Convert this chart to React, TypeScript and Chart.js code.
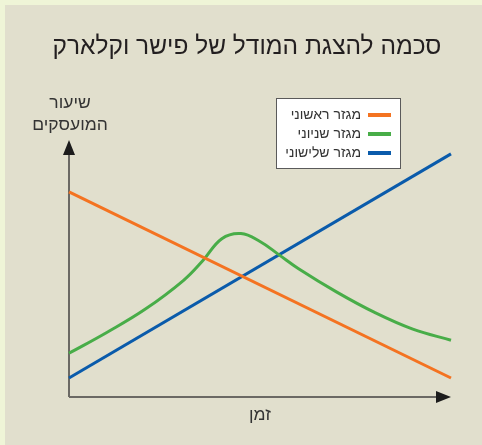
import React, { useEffect, useRef } from "react";
import { Chart, registerables } from "chart.js";

Chart.register(...registerables);

const chartTitle = "סכמה להצגת המודל של פישר וקלארק";
const yAxisLabel = ["שיעור", "המועסקים"];
const xAxisLabel = "זמן";
const seriesNames = ["מגזר ראשוני", "מגזר שניוני", "מגזר שלישוני"];
const seriesColors = ["#f47321", "#48ad48", "#0a5bab"];

const primaryX = [0, 10];
const primaryY = [79.8, 7.4];
const secondaryX = [0, 1, 2, 3, 3.5, 4, 4.5, 5, 5.5, 6, 7, 8, 9, 10];
const secondaryY = [17.0, 25.2, 34.2, 45.4, 53.0, 61.6, 63.6, 60.5, 55.3, 50.0, 40.9, 32.9, 26.4, 22.1];
const tertiaryX = [0, 10];
const tertiaryY = [7.4, 94.6];

const FONT = "'Liberation Sans', Arial, sans-serif";

const zip = (xs: number[], ys: number[]) => xs.map((x, i) => ({ x, y: ys[i] }));

const decorPlugin = {
  id: "decor",
  beforeDraw(chart: any) {
    const { ctx, width, height } = chart;
    ctx.save();
    ctx.fillStyle = "#eff5d7";
    ctx.fillRect(0, 0, width, height);
    ctx.fillStyle = "#e1dfcd";
    ctx.fillRect(5, 5, width - 5, height - 5);
    ctx.fillStyle = "#231f20";
    ctx.font = `24.5px ${FONT}`;
    ctx.textAlign = "center";
    ctx.textBaseline = "middle";
    ctx.fillText(chartTitle, 247, 47);
    ctx.fillStyle = "#333";
    ctx.font = `17.5px ${FONT}`;
    ctx.fillText(yAxisLabel[0], 70, 103);
    ctx.fillText(yAxisLabel[1], 70, 125);
    ctx.restore();
  },
  beforeDatasetsDraw(chart: any) {
    const { ctx } = chart;
    const xs = chart.scales.x;
    const ys = chart.scales.y;
    const x0 = xs.getPixelForValue(0);
    const x1 = xs.getPixelForValue(10);
    const y0 = ys.getPixelForValue(0);
    const y1 = ys.getPixelForValue(100);
    ctx.save();
    ctx.strokeStyle = "#6b6964";
    ctx.lineWidth = 2;
    ctx.beginPath();
    ctx.moveTo(x0, y0);
    ctx.lineTo(x0, y1 + 10);
    ctx.moveTo(x0, y0);
    ctx.lineTo(x1 - 10, y0);
    ctx.stroke();
    ctx.fillStyle = "#1c1c1c";
    ctx.beginPath();
    ctx.moveTo(x0, y1);
    ctx.lineTo(x0 - 6, y1 + 15);
    ctx.lineTo(x0 + 6, y1 + 15);
    ctx.closePath();
    ctx.fill();
    ctx.beginPath();
    ctx.moveTo(x1, y0);
    ctx.lineTo(x1 - 15, y0 - 6);
    ctx.lineTo(x1 - 15, y0 + 6);
    ctx.closePath();
    ctx.fill();
    ctx.fillStyle = "#333";
    ctx.font = `17.5px ${FONT}`;
    ctx.textAlign = "center";
    ctx.textBaseline = "middle";
    ctx.fillText(xAxisLabel, 260, 415);
    ctx.restore();
  },
  afterDatasetsDraw(chart: any) {
    const { ctx } = chart;
    ctx.save();
    ctx.fillStyle = "#ffffff";
    ctx.fillRect(276.5, 98.5, 124, 70);
    ctx.strokeStyle = "#5a5a5a";
    ctx.lineWidth = 1;
    ctx.strokeRect(276.5, 98.5, 124, 70);
    chart.data.datasets.forEach((ds: any, i: number) => {
      const y = 115 + i * 19;
      ctx.strokeStyle = ds.borderColor;
      ctx.lineWidth = 4;
      ctx.beginPath();
      ctx.moveTo(368, y);
      ctx.lineTo(391, y);
      ctx.stroke();
      ctx.fillStyle = "#333";
      ctx.font = `14px ${FONT}`;
      ctx.textAlign = "right";
      ctx.textBaseline = "middle";
      ctx.fillText(ds.label, 361, y);
    });
    ctx.restore();
  },
};

export default function App() {
  const ref = useRef<HTMLCanvasElement>(null);
  useEffect(() => {
    if (!ref.current) return;
    const chart = new Chart(ref.current, {
      type: "line",
      data: {
        datasets: [
          { label: seriesNames[0], data: zip(primaryX, primaryY), borderColor: seriesColors[0], tension: 0 },
          { label: seriesNames[1], data: zip(secondaryX, secondaryY), borderColor: seriesColors[1], tension: 0.4 },
          { label: seriesNames[2], data: zip(tertiaryX, tertiaryY), borderColor: seriesColors[2], tension: 0 },
        ].map((d: any) => ({ ...d, borderWidth: 3, pointRadius: 0, fill: false, clip: false })),
      },
      options: {
        responsive: false,
        animation: false,
        devicePixelRatio: 1,
        layout: { padding: { left: 69, right: 31, top: 140, bottom: 48 } },
        plugins: { legend: { display: false }, title: { display: false }, tooltip: { enabled: false } },
        scales: {
          x: { type: "linear", min: 0, max: 10, display: false },
          y: { type: "linear", min: 0, max: 100, display: false },
        },
      },
      plugins: [decorPlugin],
    });
    return () => chart.destroy();
  }, []);
  return (
    <div style={{ position: "fixed", left: 0, top: 0, width: 482, height: 445 }}>
      <canvas ref={ref} width={482} height={445} style={{ display: "block" }} />
    </div>
  );
}
